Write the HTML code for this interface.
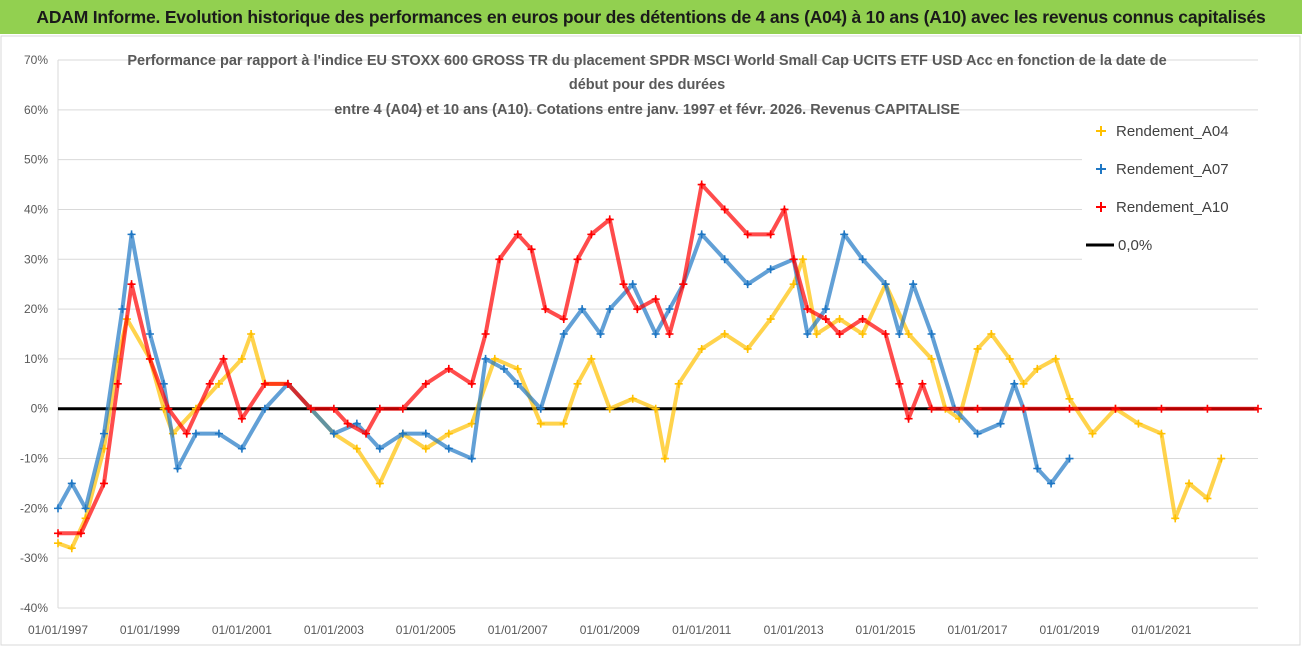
<!DOCTYPE html>
<html><head><meta charset="utf-8">
<style>
html,body{margin:0;padding:0;background:#fff;}
body{width:1302px;height:647px;overflow:hidden;position:relative;font-family:"Liberation Sans",sans-serif;}
#titlebar{position:absolute;left:0;top:0;width:1302px;height:34px;background:#92D050;color:#1a1a1a;font-weight:bold;font-size:17.5px;line-height:34px;text-align:center;letter-spacing:-0.2px;}
svg{position:absolute;left:0;top:0;}
</style></head>
<body>
<div id="titlebar">ADAM Informe. Evolution historique des performances en euros pour des détentions de 4 ans (A04) à 10 ans (A10) avec les revenus connus capitalisés</div>
<svg id="chart" width="1302" height="647"></svg>
<script>
const yTicks=[70,60,50,40,30,20,10,0,-10,-20,-30,-40];
const yTickLabels=["70%","60%","50%","40%","30%","20%","10%","0%","-10%","-20%","-30%","-40%"];
const xTickYears=[1997,1999,2001,2003,2005,2007,2009,2011,2013,2015,2017,2019,2021];
const xTickLabels=["01/01/1997","01/01/1999","01/01/2001","01/01/2003","01/01/2005","01/01/2007","01/01/2009","01/01/2011","01/01/2013","01/01/2015","01/01/2017","01/01/2019","01/01/2021"];
const a04Dates=[1997,1997.3,1997.6,1998,1998.3,1998.5,1999,1999.3,1999.5,2000,2000.5,2001,2001.2,2001.5,2002,2002.5,2003,2003.5,2004,2004.5,2005,2005.5,2006,2006.5,2007,2007.5,2008,2008.3,2008.6,2009,2009.5,2010,2010.2,2010.5,2011,2011.5,2012,2012.5,2013,2013.2,2013.5,2014,2014.5,2015,2015.5,2016,2016.3,2016.6,2017,2017.3,2017.7,2018,2018.3,2018.7,2019,2019.5,2020,2020.5,2021,2021.3,2021.6,2022,2022.3];
const a04Values=[-27,-28,-22,-8,10,18,10,0,-5,0,5,10,15,5,5,0,-5,-8,-15,-5,-8,-5,-3,10,8,-3,-3,5,10,0,2,0,-10,5,12,15,12,18,25,30,15,18,15,25,15,10,0,-2,12,15,10,5,8,10,2,-5,0,-3,-5,-22,-15,-18,-10];
const a07Dates=[1997,1997.3,1997.6,1998,1998.4,1998.6,1999,1999.3,1999.6,2000,2000.5,2001,2001.5,2002,2002.5,2003,2003.5,2004,2004.5,2005,2005.5,2006,2006.3,2006.7,2007,2007.5,2008,2008.4,2008.8,2009,2009.5,2010,2010.3,2010.6,2011,2011.5,2012,2012.5,2013,2013.3,2013.7,2014.1,2014.5,2015,2015.3,2015.6,2016,2016.5,2017,2017.5,2017.8,2018,2018.3,2018.6,2019];
const a07Values=[-20,-15,-20,-5,20,35,15,5,-12,-5,-5,-8,0,5,0,-5,-3,-8,-5,-5,-8,-10,10,8,5,0,15,20,15,20,25,15,20,25,35,30,25,28,30,15,20,35,30,25,15,25,15,0,-5,-3,5,0,-12,-15,-10];
const a10Dates=[1997,1997.5,1998,1998.3,1998.6,1999,1999.4,1999.8,2000.3,2000.6,2001,2001.5,2002,2002.5,2003,2003.3,2003.7,2004,2004.5,2005,2005.5,2006,2006.3,2006.6,2007,2007.3,2007.6,2008,2008.3,2008.6,2009,2009.3,2009.6,2010,2010.3,2010.6,2011,2011.5,2012,2012.5,2012.8,2013,2013.3,2013.7,2014,2014.5,2015,2015.3,2015.5,2015.8,2016,2017,2018,2019,2020,2021,2022,2023.1];
const a10Values=[-25,-25,-15,5,25,10,0,-5,5,10,-2,5,5,0,0,-3,-5,0,0,5,8,5,15,30,35,32,20,18,30,35,38,25,20,22,15,25,45,40,35,35,40,30,20,18,15,18,15,5,-2,5,0,0,0,0,0,0,0,0];

const NS="http://www.w3.org/2000/svg";
const svg=document.getElementById('chart');
const X0=58,X1=1258,Y0=608,Y1=60;
const xMin=1997,xMax=2023.1,yMin=-40,yMax=70;
function xs(v){return X0+(v-xMin)/(xMax-xMin)*(X1-X0);}
function ys(v){return Y0-(v-yMin)/(yMax-yMin)*(Y0-Y1);}
function mk(tag,attrs){const e=document.createElementNS(NS,tag);for(const k in attrs)e.setAttribute(k,attrs[k]);return e;}

svg.appendChild(mk('rect',{x:1,y:36,width:1299,height:609,fill:'none',stroke:'#d9d9d9'}));
const grid=mk('g',{});


svg.appendChild(grid);
yTicks.forEach((t,i)=>{
  const l=mk('line',{x1:X0,x2:X1,y1:ys(t),y2:ys(t),stroke:'#d9d9d9','stroke-width':1});
  grid.appendChild(l);
  const tx=mk('text',{x:X0-10,y:ys(t)+4,'text-anchor':'end','font-size':12,fill:'#595959'});
  
  
  tx.textContent=yTickLabels[i];svg.appendChild(tx);
});
svg.appendChild(mk('line',{x1:X0,x2:X0,y1:Y1,y2:Y0,stroke:'#d9d9d9'}));
xTickYears.forEach((yr,i)=>{
  const tx=mk('text',{x:xs(yr),y:634,'text-anchor':'middle','font-size':12,fill:'#595959'});
  
  
  tx.textContent=xTickLabels[i];svg.appendChild(tx);
});

const zero=mk('line',{x1:X0,x2:X1,y1:ys(0),y2:ys(0),stroke:'#000','stroke-width':3});


svg.appendChild(zero);

function series(dates,vals,color,name){
  const g=mk('g',{});
  
  
  const pts=dates.map((d,i)=>xs(d)+','+ys(vals[i])).join(' ');
  g.appendChild(mk('polyline',{points:pts,fill:'none',stroke:color,'stroke-width':4,opacity:0.7,'stroke-linejoin':'round'}));
  dates.forEach((d,i)=>{
    const x=xs(d),y=ys(vals[i]);
    const p=mk('path',{d:`M${x-4},${y}H${x+4}M${x},${y-4}V${y+4}`,stroke:color,'stroke-width':1.6});
    
    
    g.appendChild(p);
  });
  svg.appendChild(g);
}
series(a04Dates,a04Values,'#FFC000','series-a04');
series(a07Dates,a07Values,'#1F77C4','series-a07');
series(a10Dates,a10Values,'#FF0000','series-a10');

const titles=["Performance par rapport à l'indice EU STOXX 600 GROSS TR  du placement SPDR MSCI World Small Cap UCITS ETF USD Acc en fonction de la date de","début pour des durées","entre 4 (A04) et 10 ans (A10).  Cotations entre janv. 1997 et févr. 2026. Revenus CAPITALISE"];
const tys=[65,89,114];
titles.forEach((t,i)=>{
  const tx=mk('text',{x:647,y:tys[i],'text-anchor':'middle','font-size':14.5,'font-weight':'bold',fill:'#595959'});
  
  
  tx.textContent=t;svg.appendChild(tx);
});

svg.appendChild(mk('rect',{x:1082,y:112,width:190,height:150,fill:'#fff'}));
const leg=[["Rendement_A04",'#FFC000'],["Rendement_A07",'#1F77C4'],["Rendement_A10",'#FF0000']];
leg.forEach((l,i)=>{
  const y=131+i*38;
  const g=mk('g',{});
  
  
  g.appendChild(mk('path',{d:`M${1096},${y}H${1106}M${1101},${y-5}V${y+5}`,stroke:l[1],'stroke-width':2}));
  const tx=mk('text',{x:1116,y:y+5,'font-size':15,fill:'#404040'});tx.textContent=l[0];g.appendChild(tx);
  svg.appendChild(g);
});
const gz=mk('g',{});


gz.appendChild(mk('line',{x1:1086,x2:1114,y1:245,y2:245,stroke:'#000','stroke-width':3}));
const tz=mk('text',{x:1118,y:250,'font-size':15,fill:'#404040'});tz.textContent="0,0%";gz.appendChild(tz);
svg.appendChild(gz);
</script>
</body></html>
